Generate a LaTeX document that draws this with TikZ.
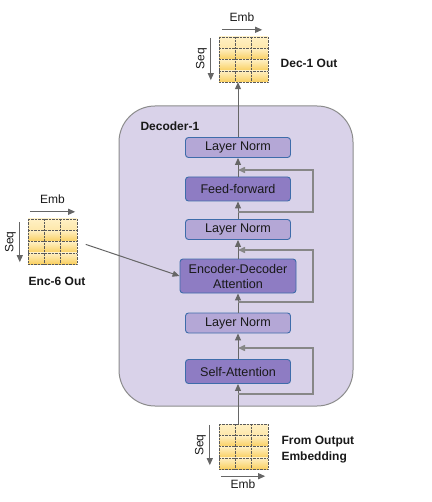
\documentclass[tikz,border=0pt]{standalone}
\usepackage{fontspec}
\setmainfont{Liberation Sans}
\usetikzlibrary{arrows.meta,positioning,calc}
\definecolor{declav}{RGB}{217,210,233}
\definecolor{decedge}{RGB}{140,140,140}
\definecolor{normfill}{RGB}{180,167,214}
\definecolor{attnfill}{RGB}{142,124,195}
\definecolor{boxedge}{RGB}{62,108,170}
\definecolor{gridlight}{RGB}{255,240,196}
\definecolor{griddark}{RGB}{249,207,96}
\definecolor{gridline}{RGB}{90,90,90}
\definecolor{flowgrey}{RGB}{102,102,102}
\definecolor{resgrey}{RGB}{135,135,135}

\begin{document}
\begin{tikzpicture}[x=1pt, y=-1pt,
    every node/.style={font=\fontsize{12}{14}\selectfont, text=black!90},
    lbl/.style={font=\fontsize{12}{16}\selectfont\bfseries},
    decbox/.style={rectangle, draw=decedge, line width=1pt, fill=declav, rounded corners=36pt,
                 minimum width=234pt, minimum height=300pt},
    normbox/.style={rectangle, draw=boxedge, line width=0.9pt, rounded corners=3pt, fill=normfill,
                 minimum width=105pt, minimum height=20pt, inner sep=0pt,
                 font=\fontsize{12.6}{15}\selectfont},
    attnbox/.style={normbox, fill=attnfill, minimum height=24pt},
    gridbox/.style={rectangle, minimum width=49pt, minimum height=45pt, inner sep=0pt,
                 draw=gridline, densely dotted,
                 path picture={
                   \foreach \r in {0,...,3}
                     \shade[top color=gridlight, bottom color=griddark]
                       ($(path picture bounding box.north west)+(0pt,-11.25pt*\r)$) rectangle
                       ($(path picture bounding box.north east)+(0pt,-11.25pt*\r-11.25pt)$);
                   \foreach \c in {1,2}
                     \draw[gridline, densely dotted]
                       ($(path picture bounding box.north west)+(16.33pt*\c,0pt)$) --
                       ($(path picture bounding box.south west)+(16.33pt*\c,0pt)$);
                   \foreach \r in {1,2,3}
                     \draw[gridline, densely dotted]
                       ($(path picture bounding box.north west)+(0pt,-11.25pt*\r)$) --
                       ($(path picture bounding box.north east)+(0pt,-11.25pt*\r)$);
                 }},
    arr/.style={-{Triangle[length=7pt,width=6pt]}, line width=1pt, flowgrey},
    resarr/.style={-{Triangle[length=7pt,width=6pt]}, line width=1.5pt, resgrey},
    dimarr/.style={-{Triangle[length=7pt,width=6pt]}, line width=1pt, flowgrey}
]
\useasboundingbox (0,0) rectangle (431,502);

% decoder block
\node[decbox] (dec) at (236,256) {};
\node[lbl, anchor=west] (declbl) at (137,126) {Decoder-1};

\node[attnbox] (selfatt) at (238,371.5) {Self-Attention};
\node[normbox] (norm1)   at (238,323)   {Layer Norm};
\node[attnbox, minimum width=116pt, minimum height=34pt, align=center] (encdec) at (238,276)
    {Encoder-Decoder\\Attention};
\node[normbox] (norm2)   at (238,229.5) {Layer Norm};
\node[attnbox] (ffwd)    at (238,189)   {Feed-forward};
\node[normbox] (norm3)   at (238,147.5) {Layer Norm};

% tensors
\node[gridbox] (gridin)  at (243.5,446.5) {};
\node[gridbox] (gridout) at (243.5,59.5)  {};
\node[gridbox] (gridenc) at (52.5,241.5)  {};

\node[lbl] (outlbl) at (309,63)  {Dec-1 Out};
\node[lbl] (enclbl) at (57,281)  {Enc-6 Out};
\node[lbl, align=left, anchor=west] (inlbl) at (278,450) {From Output\\Embedding};

% dimension arrows
\draw[dimarr] ([xshift=3pt,yshift=7pt]gridout.north west) -- ([xshift=-6pt,yshift=7pt]gridout.north east)
    node[midway, above=4pt] (embout) {Emb};
\draw[dimarr] ([xshift=-8pt,yshift=-1pt]gridout.north west) -- ([xshift=-8pt,yshift=2pt]gridout.south west)
    node[midway, rotate=90, anchor=south] (seqout) {Seq};
\draw[dimarr] ([xshift=2pt,yshift=7pt]gridenc.north west) -- ([xshift=-2pt,yshift=7pt]gridenc.north east)
    node[midway, above=4pt] (embenc) {Emb};
\draw[dimarr] ([xshift=-8pt,yshift=-3pt]gridenc.north west) -- ([xshift=-8pt,yshift=2pt]gridenc.south west)
    node[midway, rotate=90, anchor=south] (seqenc) {Seq};
\draw[dimarr] ([xshift=2pt,yshift=-7pt]gridin.south west) -- ([xshift=-3pt,yshift=-7pt]gridin.south east)
    node[midway, below=0pt] (embin) {Emb};
\draw[dimarr] ([xshift=-9pt,yshift=-1pt]gridin.north west) -- ([xshift=-9pt,yshift=4pt]gridin.south west)
    node[midway, rotate=90, anchor=south] (seqin) {Seq};

% main path
\draw[arr] (selfatt.south |- gridin.north) -- (selfatt.south);
\draw[arr] (selfatt.north) -- (norm1.south);
\draw[arr] (norm1.north) -- (encdec.south);
\draw[arr] (encdec.north) -- (norm2.south);
\draw[arr] (norm2.north) -- (ffwd.south);
\draw[arr] (ffwd.north) -- (norm3.south);
\draw[arr] (norm3.north) -- (norm3.north |- gridout.south);

% residual connections
\coordinate (res1a) at (238,394);
\coordinate (res1b) at (238,348);
\coordinate (res2a) at (238,302);
\coordinate (res2b) at (238,250);
\coordinate (res3a) at (238,212);
\coordinate (res3b) at (238,170);
\draw[resarr] (res1a) -- ++(75,0) |- (res1b);
\draw[resarr] (res2a) -- ++(75,0) |- (res2b);
\draw[resarr] (res3a) -- ++(75,0) |- (res3b);

% encoder output into cross attention
\draw[arr, shorten <=9pt] (gridenc.east) -- (encdec.west);
\end{tikzpicture}
\end{document}
